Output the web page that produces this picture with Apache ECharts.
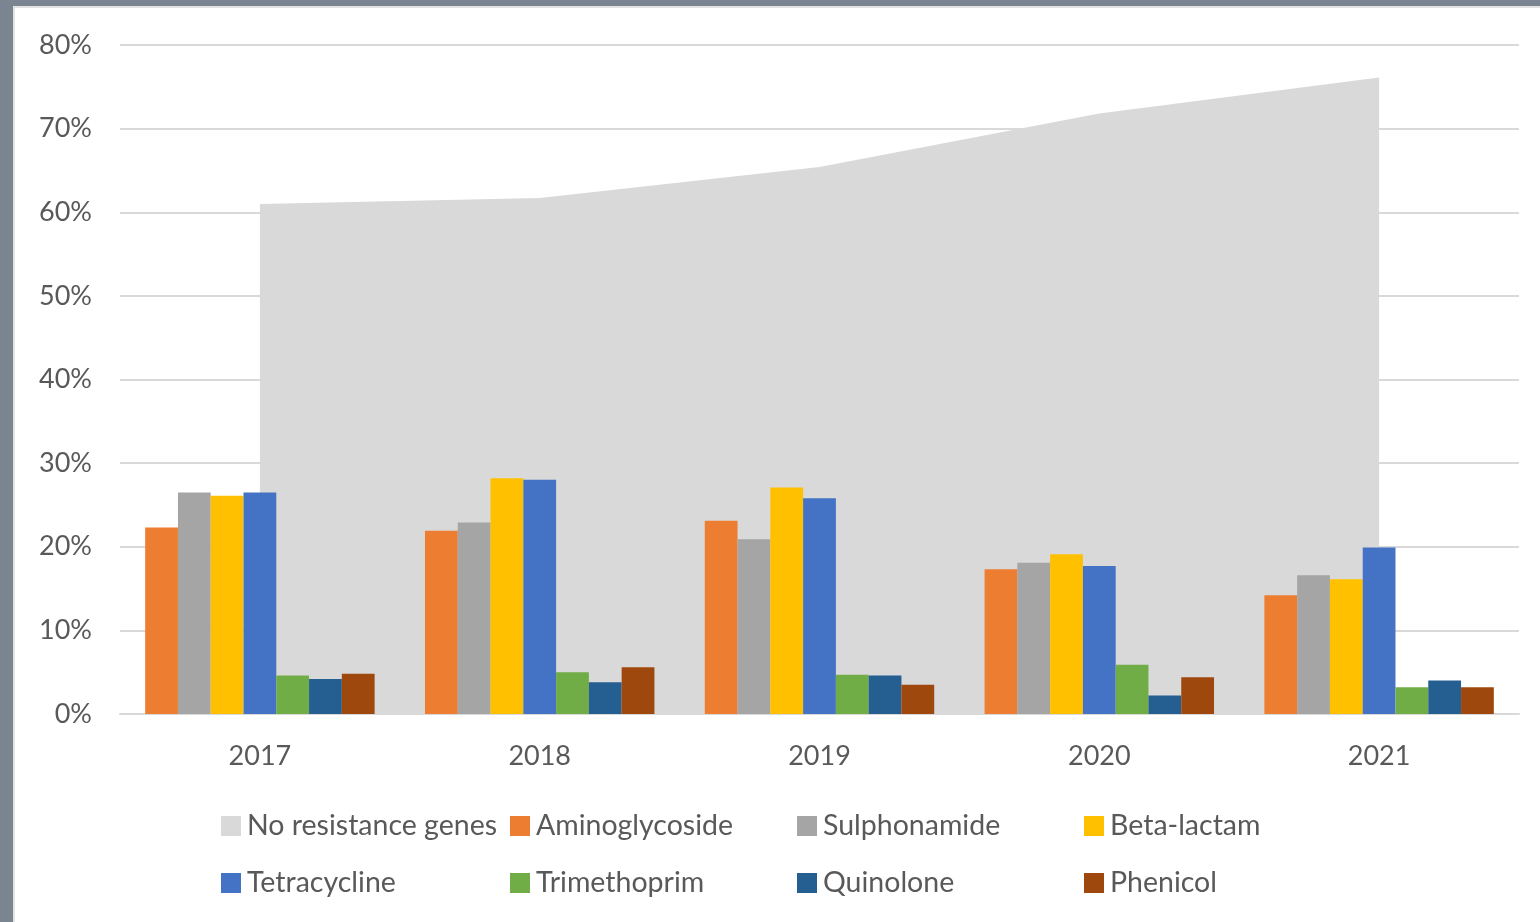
<!DOCTYPE html>
<html>
<head>
<meta charset="utf-8">
<title>Resistance genes</title>
<script src="https://cdn.jsdelivr.net/npm/echarts@6/dist/echarts.min.js"></script>
<style>
    html, body { margin: 0; padding: 0; background: #7b8591; }
    #main {
        position: absolute; left: 13px; top: 6px;
        width: 1525px; height: 914px;
        background: #fff;
        border-left: 2px solid #e3e3e3;
        border-top: 2px solid #e3e3e3;
    }
</style>
</head>
<body>
<div id="main"></div>
<script>
var years = ['2017', '2018', '2019', '2020', '2021'];
var yTicks = ['0%', '10%', '20%', '30%', '40%', '50%', '60%', '70%', '80%'];

var noResistance   = [61.0, 61.7, 65.4, 71.8, 76.1];
var aminoglycoside = [22.3, 21.9, 23.1, 17.3, 14.2];
var sulphonamide   = [26.5, 22.9, 20.9, 18.1, 16.6];
var betaLactam     = [26.1, 28.2, 27.1, 19.1, 16.1];
var tetracycline   = [26.5, 28.0, 25.8, 17.7, 19.9];
var trimethoprim   = [4.6, 5.0, 4.7, 5.9, 3.2];
var quinolone      = [4.2, 3.8, 4.6, 2.2, 4.0];
var phenicol       = [4.8, 5.6, 3.5, 4.4, 3.2];

var font = 'Lato';
var textColor = '#595959';

function bar(name, data, color) {
    return {
        name: name,
        type: 'bar',
        data: data,
        barGap: '0%',
        barCategoryGap: '18%',
        itemStyle: { color: color },
        z: 3
    };
}

// legend columns, like the excel layout (2 rows x 4 cols)
var legendCols = [
    ['No resistance genes', 'Tetracycline'],
    ['Aminoglycoside', 'Trimethoprim'],
    ['Sulphonamide', 'Quinolone'],
    ['Beta-lactam', 'Phenicol']
];
var legendLeft = [206, 495, 782, 1069];

var legends = legendCols.map(function (col, i) {
    return {
        data: col,
        orient: 'vertical',
        left: legendLeft[i],
        top: 803,
        icon: 'rect',
        itemWidth: 20,
        itemHeight: 20,
        itemGap: 27,
        padding: 0,
        textStyle: { fontFamily: font, fontSize: 28.5, color: textColor, lineHeight: 30, padding: [0, 0, 0, 1] }
    };
});

var option = {
    animation: false,
    legend: legends,
    grid: { left: 105, right: 21, top: 37, bottom: 208 },
    xAxis: {
        type: 'category',
        data: years,
        axisTick: { show: false },
        axisLine: { lineStyle: { color: '#d9d9d9', width: 2 } },
        axisLabel: { fontFamily: font, fontSize: 27, color: textColor, margin: 29 }
    },
    yAxis: {
        type: 'value',
        min: 0,
        max: 80,
        interval: 10,
        axisLine: { show: false },
        axisTick: { show: false },
        splitLine: { lineStyle: { color: '#d9d9d9', width: 2 } },
        axisLabel: {
            fontFamily: font, fontSize: 27, color: textColor, margin: 28,
            formatter: function (v) { return yTicks[Math.round(v / 10)]; }
        }
    },
    series: [
        {
            name: 'No resistance genes',
            type: 'line',
            data: noResistance,
            symbol: 'none',
            lineStyle: { width: 0, color: '#d9d9d9' },
            itemStyle: { color: '#d9d9d9' },
            areaStyle: { color: '#d9d9d9', opacity: 1 },
            z: 1
        },
        bar('Aminoglycoside', aminoglycoside, '#ed7d31'),
        bar('Sulphonamide', sulphonamide, '#a5a5a5'),
        bar('Beta-lactam', betaLactam, '#ffc000'),
        bar('Tetracycline', tetracycline, '#4472c4'),
        bar('Trimethoprim', trimethoprim, '#70ad47'),
        bar('Quinolone', quinolone, '#255e91'),
        bar('Phenicol', phenicol, '#9e480e')
    ]
};

var myChart = echarts.init(document.getElementById('main'));
myChart.setOption(option);
</script>
</body>
</html>
